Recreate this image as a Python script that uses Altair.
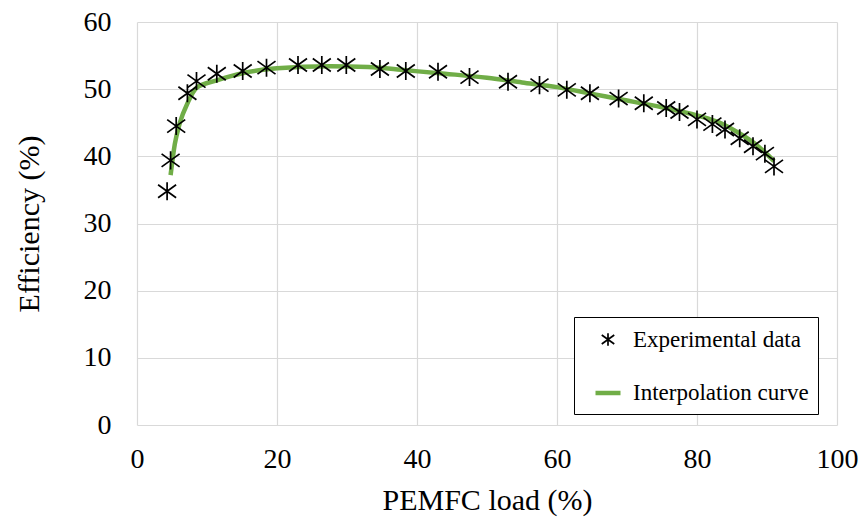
import altair as alt
import pandas as pd

exp_load = [4.3, 4.8, 5.6, 7.2, 8.5, 11.4, 15.1, 18.5, 23.0, 26.4, 29.9, 34.7, 38.4,
            43.0, 47.5, 53.0, 57.5, 61.4, 64.7, 68.8, 72.4, 75.6, 77.5, 80.0, 82.2,
            84.0, 86.1, 88.0, 89.7, 91.0]
exp_eff = [34.8, 39.4, 44.5, 49.4, 51.2, 52.3, 52.7, 53.2, 53.6, 53.6, 53.6, 53.0, 52.7,
           52.6, 51.8, 51.1, 50.6, 49.9, 49.4, 48.6, 47.9, 47.2, 46.6, 45.5, 44.8,
           44.0, 42.7, 41.5, 40.4, 38.5]

# Interpolation curve
fit_load = [4.8, 5.4, 6.1, 7.3, 8.5, 11.4, 15.2, 20.0, 27.6, 33.0, 38.5, 44.0, 50.0,
            55.0, 60.0, 65.0, 69.0, 75.0, 80.0, 83.5, 86.1, 88.5, 91.0]
fit_eff = [37.2, 41.8, 44.9, 48.1, 50.2, 51.3, 52.4, 53.1, 53.4, 53.3, 52.8, 52.3, 51.7,
           51.0, 50.3, 49.3, 48.5, 47.3, 46.1, 44.9, 43.4, 41.7, 39.3]

series_names = ["Experimental data", "Interpolation curve"]
x_ticks = [0, 20, 40, 60, 80, 100]
y_ticks = [0, 10, 20, 30, 40, 50, 60]

exp_df = pd.DataFrame({"load": exp_load, "eff": exp_eff, "series": series_names[0]})
fit_df = pd.DataFrame({"load": fit_load, "eff": fit_eff, "series": series_names[1]})

STAR = "M0,-0.5L0,0.5M-0.5,-0.36L0.5,0.36M-0.5,0.36L0.5,-0.36"
FONT = "Liberation Serif"

x_enc = alt.X("load:Q", title="PEMFC load (%)",
              scale=alt.Scale(domain=[0, 100], nice=False),
              axis=alt.Axis(values=x_ticks, labelPadding=20, titlePadding=12,
                            labelFlush=False))
y_enc = alt.Y("eff:Q", title="Efficiency (%)",
              scale=alt.Scale(domain=[0, 60], nice=False),
              axis=alt.Axis(values=y_ticks, labelPadding=26, titlePadding=39,
                            labelFlush=False))

color_enc = alt.Color("series:N", scale=alt.Scale(domain=series_names, range=["black", "#70AD47"]),
                      legend=alt.Legend(title=None, orient="none", legendX=437, legendY=295,
                                        strokeColor="black", padding=9, symbolOffset=10,
                                        fillColor="white",
                                        labelFont=FONT, labelFontSize=23, labelColor="black",
                                        labelOffset=10, rowPadding=26, symbolSize=625,
                                        labelLimit=400))
shape_enc = alt.Shape("series:N", scale=alt.Scale(domain=series_names, range=[STAR, "stroke"]))
sw_enc = alt.StrokeWidth("series:N", scale=alt.Scale(domain=series_names, range=[1.7, 4.5]))

line = alt.Chart(fit_df).mark_line(interpolate="monotone").encode(
    x=x_enc, y=y_enc, color=color_enc, strokeWidth=sw_enc)

points = alt.Chart(exp_df).mark_point(filled=False, size=1300, opacity=1).encode(
    x=x_enc, y=y_enc, color=color_enc, shape=shape_enc, strokeWidth=sw_enc)

chart = alt.layer(line, points).properties(
    width=700, height=403,
    background="white",
    autosize=alt.AutoSizeParams(type="none"),
    padding={"left": 137, "top": 22, "right": 28, "bottom": 98},
).configure_view(stroke=None).configure_axis(
    grid=True, gridColor="#d9d9d9", gridWidth=1.2, domain=False, ticks=False,
    labelFont=FONT, labelFontSize=28, labelColor="black",
    titleFont=FONT, titleFontSize=30, titleFontWeight="normal", titleColor="black",
)

chart.save("out.html", embed_options={"renderer": "svg", "actions": False})
